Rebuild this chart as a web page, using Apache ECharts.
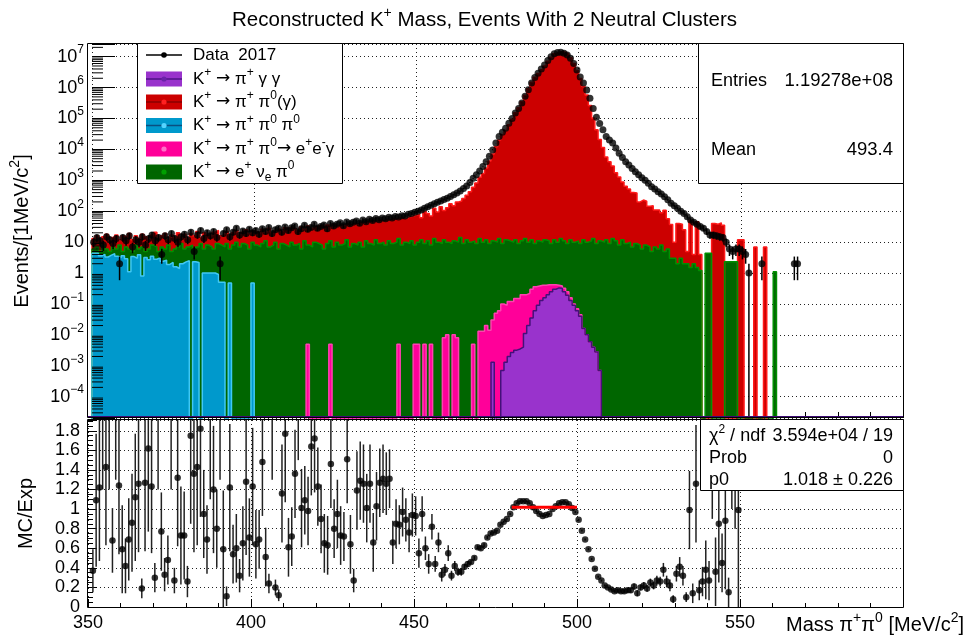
<!DOCTYPE html>
<html><head><meta charset="utf-8">
<script src="https://cdn.jsdelivr.net/npm/echarts@6/dist/echarts.min.js"></script>
<style>html,body{margin:0;padding:0;background:#fff}#c{width:969px;height:642px}</style>
</head><body><div id="c"></div>
<script>
const FONT = '"Liberation Sans", Arial, Helvetica, sans-serif';

// ---------- axes ----------
const xMin = 350, xMax = 600, xStep = 50;
const yLogMin = -4.69, yLogMax = 7.41;     // decades shown in the top pad
const ratioMin = 0, ratioMax = 1.91, ratioStep = 0.2;

// ---------- top pad: 1 MeV bins, values per bin starting at *Start ----------
const dataStart = 350;
const dataCounts = [
  10, 14, 11, 8, 15, 12, 9, 13, 2, 14,
  11, 16, 7, 12, 10, 15, 8, 13, 17, 11,
  14, 4, 16, 12, 19, 13, 10, 15, 18, 12,
  21, 5, 17, 24, 13, 20, 16, 22, 14, 2,
  19, 25, 15, 21, 28, 17, 23, 19, 26, 20,
  24, 18, 27, 22, 30, 19, 25, 28, 21, 31,
  24, 29, 33, 22, 27, 35, 26, 30, 38, 28,
  32, 36, 27, 40, 33, 38, 42, 34, 45, 39,
  44, 48, 41, 52, 46, 55, 50, 58, 53, 60,
  57, 64, 60, 68, 65, 72, 70, 80, 85, 92,
  100, 110, 125, 140, 155, 175, 195, 215, 240, 265,
  300, 340, 390, 450, 540, 650, 850, 1160, 1500, 2000,
  2800, 4000, 6000, 9500, 16000, 26000, 36000, 48000, 70000, 100000,
  150000, 210000, 320000, 520000, 850000, 1400000, 2100000, 2900000, 4000000, 5400000,
  7500000, 10000000, 12500000, 13600000, 13800000, 13000000, 11300000, 8900000, 6000000, 3700000,
  2200000, 1400000, 840000, 450000, 210000, 110000, 69000, 43000, 26000, 20000,
  16000, 11000, 7500, 5500, 4000, 3100, 2400, 1900, 1500, 1200,
  1000, 800, 620, 520, 430, 360, 295, 235, 180, 150,
  125, 100, 85, 66, 52, 44, 38, 32, 28, 22,
  17, 17, 16, 15, 14, 10, 6, 5, 6, 6,
  5, 4, 1, 0, 0, 0, 2, 0, 0, 0,
  0, 0, 0, 0, 0, 0, 2, 2, 0, 0
];

const redStart = 350;   // K+ -> pi+ pi0 (gamma)
const redVals = [
  13, 16, 12, 15, 18, 11, 14, 17, 12, 16,
  14, 19, 12, 16, 13, 18, 15, 12, 17, 21,
  13, 16, 19, 12, 17, 14, 20, 15, 18, 13,
  19, 16, 22, 14, 20, 17, 15, 21, 24, 16,
  18, 22, 17, 20, 24, 18, 21, 25, 19, 23,
  22, 19, 26, 21, 28, 20, 24, 27, 22, 29,
  25, 30, 27, 23, 31, 26, 33, 28, 32, 29,
  34, 30, 36, 32, 38, 33, 37, 35, 40, 36,
  41, 38, 44, 40, 47, 43, 50, 46, 52, 49,
  55, 52, 58, 56, 60, 62, 58, 66, 70, 75,
  80, 62, 100, 85, 70, 125, 95, 140, 105, 130,
  175, 150, 200, 215, 260, 330, 430, 600, 820, 1250,
  1670, 2510, 4250, 7110, 12150, 20270, 30230, 41750, 63000, 95000,
  153000, 222600, 345600, 561600, 918000, 1484000, 2142000, 2842000, 3800000, 5020000,
  7050000, 9500000, 12500000, 14000000, 14600000, 13900000, 12100000, 9300000, 6060000, 3600000,
  1960000, 1090000, 580000, 265000, 103000, 43000, 21000, 11600, 5700, 4000,
  2900, 1760, 1270, 880, 640, 520, 400, 390, 200, 230,
  210, 145, 150, 110, 110, 90, 108, 57, 37, 10,
  40, 38, 25, 5, 50, 4, 46, 4, 0, 0,
  0, 40, 38, 42, 35, 0, 0, 0, 0, 12,
  12, 0, 0, 0, 7, 0, 0, 7
];

const greenStart = 350; // K+ -> e+ nu pi0
const greenVals = [
  6, 7, 5, 8, 6, 5, 7, 6, 8, 5,
  7, 6, 5, 8, 6, 7, 5, 6, 8, 7,
  5, 7, 6, 8, 5, 6, 7, 9, 6, 7,
  8, 6, 7, 9, 6, 8, 7, 6, 9, 8,
  7, 9, 6, 8, 10, 7, 9, 8, 6, 10,
  8, 7, 9, 11, 7, 8, 10, 6, 9, 8,
  7, 10, 8, 9, 6, 11, 8, 7, 10, 9,
  8, 6, 9, 11, 7, 10, 8, 9, 12, 7,
  9, 8, 10, 7, 11, 9, 8, 12, 9, 10,
  8, 11, 9, 10, 13, 8, 10, 9, 11, 8,
  10, 12, 9, 11, 8, 13, 10, 9, 12, 10,
  9, 11, 10, 14, 9, 12, 10, 11, 9, 13,
  10, 12, 9, 11, 10, 13, 9, 12, 11, 10,
  12, 9, 11, 13, 10, 12, 9, 11, 10, 12,
  11, 9, 12, 10, 13, 11, 9, 12, 10, 11,
  9, 12, 10, 11, 13, 9, 11, 10, 12, 9,
  13, 11, 8, 12, 9, 10, 7, 9, 8, 6,
  8, 7, 5, 7, 6, 8, 5, 6, 3, 3,
  2, 3, 2, 2, 1.5, 2, 1.5, 1.2, 0, 4.4,
  4.4, 0, 0, 0, 0, 2.3, 2.3, 2.3, 2.3, 0,
  0, 0, 0, 0, 0, 0, 0, 0, 0, 0, 1.1
];

const blueStart = 350;  // K+ -> pi+ pi0 pi0
const blueVals = [
  4.4, 4.4, 3.6, 4.0, 3.3, 3.8, 4.2, 3.5, 3.1, 3.6,
  2.9, 1.1, 3.4, 3.0, 3.9, 0.8, 3.2, 2.7, 3.5, 2.8,
  3.1, 2.4, 2.6, 1.9, 2.2, 1.6, 1.4, 2.0, 2.3, 2.5,
  0, 2.3, 2.2, 0, 1.0, 1.0, 1.0, 1.0, 0.9, 0.5,
  0.5, 0, 0.48, 0, 0, 0, 0, 0, 0, 0.48
];

const pinkStart = 416;  // K+ -> pi+ pi0 -> e+ e- gamma
const pinkVals = [
  0.005, 0, 0, 0, 0, 0, 0, 0.005, 0, 0,
  0, 0, 0, 0, 0, 0, 0, 0, 0, 0,
  0, 0, 0, 0, 0, 0, 0, 0, 0.005, 0,
  0, 0, 0, 0.005, 0.005, 0, 0.005, 0, 0.005, 0,
  0, 0, 0.008, 0.01, 0, 0.01, 0.008, 0, 0, 0,
  0, 0.005, 0, 0.013, 0.013, 0.02, 0.014, 0.03, 0.05, 0.06,
  0.1, 0.09, 0.12, 0.12, 0.15, 0.15, 0.2, 0.2, 0.22, 0.3,
  0.36, 0.38, 0.4, 0.4, 0.42, 0.42, 0.42, 0.4, 0.38, 0.32,
  0.25, 0.16, 0.1, 0.07, 0.045, 0.016, 0.01, 0.006, 0.004, 0.0028, 0.0007
];

const purpleStart = 473; // K+ -> pi+ gamma gamma
const purpleVals = [
  0.0013, 0, 0, 0.0007, 0.0013, 0.002, 0.0027, 0.0032, 0.0035, 0.004,
  0.011, 0.02, 0.035, 0.06, 0.09, 0.13, 0.16, 0.2, 0.25, 0.3,
  0.33, 0.32, 0.25, 0.19, 0.13, 0.09, 0.06, 0.04, 0.016, 0.01,
  0.006, 0.004, 0.0028, 0.0007
];

// ---------- bottom pad: MC/Exp per 1 MeV bin ----------
const ratioStart = 350;
const ratioVals = [
  null, 0.37, 1.09, 1.22, 2.4, 1.43, 2.2, 0.68, 2.6, 1.24,
  0.59, 0.42, 0.69, 0.86, 1.12, 1.26, 0.19, 1.27, 1.62, 1.23,
  0.30, 2.3, 0.77, 0.33, 0.48, 2.5, 0.27, 1.32, 0.73, 0.73,
  0.26, 1.75, 1.36, 1.43, 1.82, 0.95, 0.69, 2.1, 1.20, 0.80,
  2.8, 0.59, 0.11, 1.22, 0.54, 0.60, 0.32, 0.65, 1.28, 0.71,
  1.23, 0.64, 0.69, 1.48, 0.51, 0.24, 2.2, 0.20, 0.12, 1.16,
  1.77, 0.61, 0.72, 1.36, 2.3, 1.01, 1.09, 0.98, 1.64, 1.72,
  1.23, 0.90, 0.65, 0.63, 1.46, 0.80, 0.95, 0.73, 0.72, 1.51,
  0.64, 0.27, 1.19, 1.29, 1.26, 1.01, 1.26, 0.66, 1.03, 1.27,
  1.31, 1.26, 1.31, 0.66, 0.85, 0.84, 0.97, 0.89, 0.76, 0.94,
  0.93, 0.55, 0.95, 0.60, 0.44, 0.82, 0.44, 0.66, 0.33, 0.38,
  0.55, 0.32, 0.42, 0.36, 0.36, 0.41, 0.44, 0.46, 0.50, 0.61,
  0.60, 0.63, 0.71, 0.75, 0.76, 0.78, 0.84, 0.87, 0.90, 0.95,
  1.02, 1.06, 1.08, 1.08, 1.08, 1.06, 1.02, 0.98, 0.95, 0.93,
  0.94, 0.95, 1.00, 1.03, 1.06, 1.07, 1.07, 1.05, 1.01, 0.97,
  0.89, 0.78, 0.69, 0.59, 0.49, 0.39, 0.31, 0.27, 0.22, 0.20,
  0.18, 0.16, 0.17, 0.16, 0.16, 0.17, 0.17, 0.21, 0.14, 0.20,
  0.22, 0.19, 0.25, 0.22, 0.27, 0.26, 0.38, 0.26, 0.22, 0.08,
  0.34, 0.41, 0.32, 0.10, 0.99, 0.14, 1.26, 0.17, 0.26, 0.38,
  0.27, 2.5, 0.36, 0.85, 0.45, 0.88, 0.15, 3.0, 2.6, 0.99
];
const ratioErrs = [
  0, 0.22, 0.68, 0.75, 1.2, 0.8, 1.0, 0.33, 1.3, 0.7,
  0.45, 0.28, 0.42, 0.5, 0.65, 0.7, 0.1, 0.7, 0.85, 0.68,
  0.15, 1.1, 0.4, 0.17, 0.25, 1.3, 0.13, 0.7, 0.5, 0.45,
  0.16, 0.9, 0.8, 0.8, 0.9, 0.45, 0.35, 1.0, 0.65, 0.4,
  1.5, 0.6, 0.1, 0.65, 0.3, 0.35, 0.17, 0.38, 0.75, 0.4,
  0.6, 0.35, 0.3, 0.55, 0.3, 0.1, 0.9, 0.08, 0.06, 0.5,
  0.7, 0.3, 0.3, 0.45, 0.8, 0.4, 0.35, 0.35, 0.5, 0.55,
  0.4, 0.35, 0.3, 0.3, 0.45, 0.3, 0.35, 0.3, 0.25, 0.45,
  0.3, 0.12, 0.4, 0.4, 0.4, 0.35, 0.4, 0.3, 0.35, 0.35,
  0.35, 0.32, 0.3, 0.22, 0.25, 0.2, 0.25, 0.22, 0.2, 0.22,
  0.2, 0.15, 0.18, 0.12, 0.1, 0.13, 0.08, 0.1, 0.07, 0.06,
  0.08, 0.05, 0.05, 0.04, 0.04, 0.03, 0.03, 0.02, 0.02, 0.02,
  0.02, 0.02, 0.015, 0.015, 0.01, 0.01, 0.01, 0.01, 0.01, 0.01,
  0.01, 0.01, 0.01, 0.01, 0.01, 0.01, 0.01, 0.01, 0.01, 0.01,
  0.01, 0.01, 0.01, 0.01, 0.01, 0.01, 0.01, 0.01, 0.01, 0.01,
  0.01, 0.01, 0.01, 0.01, 0.01, 0.01, 0.01, 0.01, 0.01, 0.01,
  0.015, 0.015, 0.02, 0.02, 0.02, 0.025, 0.025, 0.03, 0.03, 0.03,
  0.035, 0.035, 0.04, 0.04, 0.05, 0.05, 0.07, 0.06, 0.06, 0.04,
  0.08, 0.1, 0.1, 0.05, 0.4, 0.1, 0.6, 0.1, 0.15, 0.3,
  0.2, 1.6, 0.35, 0.6, 0.3, 0.7, 0.15, 2.0, 1.8, 1.0
];

// fit of a constant over [fitLo, fitHi]
const fitLo = 480, fitHi = 500, fitP0 = 1.018;

// text of the statistics boxes
const statEntries = '1.19278e+08', statMean = '493.4';
const fitChi2 = '3.594e+04 / 19', fitProb = '0', fitP0Text = '1.018 \u00b1 0.226';

const titleText = 'Reconstructed K^{+} Mass, Events With 2 Neutral Clusters';
const xTitle = 'Mass \u03c0^{+}\u03c0^{0} [MeV/c^{2}]';
const yTitleTop = 'Events/[1MeV/c^{2}]';
const yTitleBottom = 'MC/Exp';

const legendLabels = [
  'Data  2017',
  'K^{+} \u2192 \u03c0^{+} \u03b3 \u03b3',
  'K^{+} \u2192 \u03c0^{+} \u03c0^{0}(\u03b3)',
  'K^{+} \u2192 \u03c0^{+} \u03c0^{0} \u03c0^{0}',
  'K^{+} \u2192 \u03c0^{+} \u03c0^{0}\u2192 e^{+}e^{-}\u03b3',
  'K^{+} \u2192 e^{+} \u03bd_{e} \u03c0^{0}'
];

// ---------- styles ----------
const COL = {
  red:    {fill: '#cc0000', line: '#ff1a1a', mid: '#8a0000', dot: '#ff2020'},
  green:  {fill: '#006600', line: '#009000', mid: '#006600', dot: '#00a000'},
  blue:   {fill: '#0099cc', line: '#40c8f4', mid: '#0a4f80', dot: '#55d4ff'},
  pink:   {fill: '#ff0099', line: '#ff40b0', mid: '#ff0099', dot: '#ff70c8'},
  purple: {fill: '#9933cc', line: '#45107a', mid: '#4d1585', dot: '#6a22a8'}
};

// ---------- helpers ----------
function rt(s) {
  let out = '', last = 0, m;
  const re = /(\^|_)\{([^}]*)\}|\u2192/g;
  while ((m = re.exec(s))) {
    if (m.index > last) out += '{n|' + s.slice(last, m.index) + '}';
    if (m[0] === '\u2192') out += '{ar|\u2192}';
    else out += (m[1] === '^' ? '{sup|' : '{sub|') + m[2] + '}';
    last = re.lastIndex;
  }
  if (last < s.length) out += '{n|' + s.slice(last) + '}';
  return out;
}
function richStyles(size) {
  const ss = Math.round(size * 0.68);
  return {
    n:   {fontSize: size, fontFamily: FONT, fontWeight: 'normal', color: '#000', lineHeight: Math.round(size * 1.4)},
    ar:  {fontSize: size, fontFamily: '"DejaVu Sans", sans-serif', fontWeight: 'normal', color: '#000', lineHeight: Math.round(size * 1.4)},
    sup: {fontSize: ss, fontFamily: FONT, fontWeight: 'normal', color: '#000', verticalAlign: 'top', lineHeight: ss + 2},
    sub: {fontSize: ss, fontFamily: FONT, fontWeight: 'normal', color: '#000', verticalAlign: 'bottom', lineHeight: ss + 6}
  };
}
const LOW = -9;
const lg = v => (v > 0 ? Math.log10(v) : LOW);
function histPoints(start, vals) {
  const pts = [[start, LOW]];
  vals.forEach((v, i) => pts.push([start + i, lg(v)]));
  pts.push([start + vals.length, LOW]);
  return pts;
}
function stepSeries(name, start, vals, c) {
  return {
    type: 'line', name, xAxisIndex: 0, yAxisIndex: 0, step: 'end', symbol: 'none',
    data: histPoints(start, vals), clip: true, silent: true, z: 2,
    lineStyle: {color: c.line, width: 1.5},
    areaStyle: {color: c.fill, opacity: 1, origin: 'start'},
    itemStyle: {color: c.fill}
  };
}
function errItem(color, width) {
  return function (params, api) {
    const x = api.value(0), lo = api.value(1), hi = api.value(2);
    const cs = params.coordSys;
    const a = api.coord([x, hi]), b = api.coord([x, lo]);
    const y1 = Math.max(a[1], cs.y), y2 = Math.min(b[1], cs.y + cs.height);
    if (!(y2 > y1)) return null;
    return {type: 'line', shape: {x1: a[0], y1: y1, x2: a[0], y2: y2},
            style: {stroke: color, lineWidth: width}};
  };
}

// ---------- derived series data ----------
const dataPts = [], dataErr = [];
dataCounts.forEach((n, i) => {
  if (n > 0) {
    const x = dataStart + i + 0.5, s = Math.sqrt(n);
    dataPts.push([x, lg(n)]);
    dataErr.push([x, lg(n - s), lg(n + s)]);
  }
});
const ratioPts = [], ratioErrPts = [];
ratioVals.forEach((r, i) => {
  if (r !== null) {
    const x = ratioStart + i + 0.5;
    ratioPts.push([x, r]);
    ratioErrPts.push([x, r - ratioErrs[i], r + ratioErrs[i]]);
  }
});
const logMinor = [];
for (let k = Math.floor(yLogMin); k <= Math.ceil(yLogMax); k++) {
  for (let j = 2; j <= 9; j++) {
    const v = k + Math.log10(j);
    if (v > yLogMin && v < yLogMax) logMinor.push([xMin, v]);
  }
}

// ---------- layout ----------
const G1 = {left: 88, top: 44, width: 815, height: 374};
const G2 = {left: 88, top: 420, width: 815, height: 187};
const dotted = {type: [1, 3], color: '#222', width: 1};

const graphics = [];
graphics.push({type: 'line', z: 99, silent: true,
  shape: {x1: G1.left, y1: G1.top + G1.height - 1, x2: G1.left + G1.width, y2: G1.top + G1.height - 1},
  style: {stroke: '#3d0a75', lineWidth: 2}});
graphics.push({type: 'rect', z: 100, silent: true,
  shape: {x: G1.left - 0.5, y: G1.top - 0.5, width: G1.width + 1, height: G1.height},
  style: {fill: 'none', stroke: '#000', lineWidth: 1}});
graphics.push({type: 'rect', z: 100, silent: true,
  shape: {x: G2.left - 0.5, y: G2.top - 0.5, width: G2.width + 1, height: G2.height + 1},
  style: {fill: 'none', stroke: '#000', lineWidth: 1}});

// legend box
const LB = {x: 137.5, y: 43.5, w: 205, h: 140};
graphics.push({type: 'rect', z: 101, shape: {x: LB.x, y: LB.y, width: LB.w, height: LB.h},
  style: {fill: '#fff', stroke: '#000', lineWidth: 1}});
const legendKeys = [null, COL.purple, COL.red, COL.blue, COL.pink, COL.green];
const rowY = [55, 79, 102, 125.5, 149, 172];
legendLabels.forEach((lab, i) => {
  const cy = rowY[i];
  const c = legendKeys[i];
  if (!c) {
    graphics.push({type: 'line', z: 102, shape: {x1: 146, y1: cy, x2: 182, y2: cy}, style: {stroke: '#000', lineWidth: 1.5}});
    graphics.push({type: 'circle', z: 103, shape: {cx: 164, cy: cy, r: 2.8}, style: {fill: '#000'}});
  } else {
    graphics.push({type: 'rect', z: 102, shape: {x: 146, y: cy - 7.5, width: 36, height: 15}, style: {fill: c.fill}});
    graphics.push({type: 'line', z: 103, shape: {x1: 146, y1: cy, x2: 182, y2: cy}, style: {stroke: c.mid, lineWidth: 1.5}});
    graphics.push({type: 'circle', z: 104, shape: {cx: 164, cy: cy, r: 2.6}, style: {fill: c.dot}});
  }
  graphics.push({type: 'text', z: 104, x: 193, y: cy,
    style: {text: rt(lab), rich: richStyles(17), align: 'left', verticalAlign: 'middle'}});
});

// stats box
graphics.push({type: 'rect', z: 101, shape: {x: 698.5, y: 43.5, width: 205, height: 140},
  style: {fill: '#fff', stroke: '#000', lineWidth: 1}});
[['Entries', statEntries, 81], ['Mean', statMean, 150]].forEach(r => {
  graphics.push({type: 'text', z: 102, x: 711, y: r[2], style: {text: r[0], font: '18px ' + FONT, fill: '#000', align: 'left', verticalAlign: 'middle'}});
  graphics.push({type: 'text', z: 102, x: 893, y: r[2], style: {text: r[1], font: '18.5px ' + FONT, fill: '#000', align: 'right', verticalAlign: 'middle'}});
});

// fit box
graphics.push({type: 'rect', z: 101, shape: {x: 700.5, y: 419.5, width: 203, height: 71},
  style: {fill: '#fff', stroke: '#000', lineWidth: 1}});
[['\u03c7^{2} / ndf', fitChi2, 436], ['Prob', fitProb, 458], ['p0', fitP0Text, 480]].forEach(r => {
  graphics.push({type: 'text', z: 102, x: 709, y: r[2], style: {text: rt(r[0]), rich: richStyles(18), align: 'left', verticalAlign: 'middle'}});
  graphics.push({type: 'text', z: 102, x: 893, y: r[2], style: {text: r[1], font: '18px ' + FONT, fill: '#000', align: 'right', verticalAlign: 'middle'}});
});

function logLabel(v) {
  const k = Math.round(v);
  if (Math.abs(v - k) > 1e-6) return '';
  if (k === 0) return '{n|1}';
  if (k === 1) return '{n|10}';
  return '{n|10}{sup|' + (k < 0 ? '\u2212' + (-k) : k) + '}';
}

const option = {
  animation: false,
  backgroundColor: '#fff',
  textStyle: {fontFamily: FONT},
  title: {
    text: rt(titleText), left: 'center', top: 1,
    textStyle: {fontWeight: 'normal', rich: richStyles(20.5)}
  },
  grid: [
    {left: G1.left, top: G1.top, width: G1.width, height: G1.height},
    {left: G2.left, top: G2.top, width: G2.width, height: G2.height}
  ],
  xAxis: [
    {type: 'value', gridIndex: 0, min: xMin, max: xMax, interval: xStep,
     axisLine: {show: false, onZero: false}, axisLabel: {show: false},
     axisTick: {show: true, inside: true, length: 11, lineStyle: {color: '#000'}},
     minorTick: {show: true, splitNumber: 5, length: 6, lineStyle: {color: '#000'}},
     splitLine: {show: true, lineStyle: dotted}},
    {type: 'value', gridIndex: 1, min: xMin, max: xMax, interval: xStep,
     axisLine: {show: false, onZero: false},
     axisLabel: {show: true, fontSize: 18, color: '#000', fontFamily: FONT, margin: 7, showMaxLabel: false},
     axisTick: {show: true, inside: true, length: 8, lineStyle: {color: '#000'}},
     minorTick: {show: true, splitNumber: 5, length: 4, lineStyle: {color: '#000'}},
     splitLine: {show: true, lineStyle: dotted},
     name: rt(xTitle), nameLocation: 'end', nameGap: 61,
     nameTextStyle: {rich: richStyles(20), align: 'right', verticalAlign: 'top', padding: [4, 0, 0, 0]}}
  ],
  yAxis: [
    {type: 'value', gridIndex: 0, min: yLogMin, max: yLogMax, splitNumber: 12, minInterval: 1, maxInterval: 1,
     axisLine: {show: false, onZero: false},
     axisLabel: {show: true, formatter: logLabel, rich: richStyles(18), margin: 8},
     axisTick: {show: true, inside: true, length: 23, lineStyle: {color: '#000'}},
     splitLine: {show: true, lineStyle: dotted},
     name: rt(yTitleTop), nameLocation: 'middle', nameRotate: 90, nameGap: 56,
     nameTextStyle: {rich: richStyles(20)}},
    {type: 'value', gridIndex: 1, min: ratioMin, max: ratioMax, interval: ratioStep,
     axisLine: {show: false, onZero: false},
     axisLabel: {show: true, fontSize: 18, color: '#000', fontFamily: FONT, margin: 8, showMaxLabel: false},
     axisTick: {show: true, inside: true, length: 9, lineStyle: {color: '#000'}},
     minorTick: {show: true, splitNumber: 4, length: 5, lineStyle: {color: '#000'}},
     splitLine: {show: true, lineStyle: dotted},
     name: yTitleBottom, nameLocation: 'middle', nameRotate: 90, nameGap: 48,
     nameTextStyle: {fontSize: 20, color: '#000', fontFamily: FONT, lineHeight: 28}}
  ],
  series: [
    stepSeries('K+ \u2192 \u03c0+ \u03c00(\u03b3)', redStart, redVals, COL.red),
    stepSeries('K+ \u2192 e+ \u03bde \u03c00', greenStart, greenVals, COL.green),
    stepSeries('K+ \u2192 \u03c0+ \u03c00 \u03c00', blueStart, blueVals, COL.blue),
    stepSeries('K+ \u2192 \u03c0+ \u03c00 \u2192 e+e-\u03b3', pinkStart, pinkVals, COL.pink),
    stepSeries('K+ \u2192 \u03c0+ \u03b3 \u03b3', purpleStart, purpleVals, COL.purple),
    {type: 'custom', name: 'yMinorTicks', xAxisIndex: 0, yAxisIndex: 0, data: logMinor, silent: true, z: 10,
     renderItem: function (params, api) {
       const p = api.coord([api.value(0), api.value(1)]);
       const cs = params.coordSys;
       return {type: 'line', shape: {x1: cs.x, y1: p[1], x2: cs.x + 11, y2: p[1]}, style: {stroke: '#000', lineWidth: 1}};
     }},
    {type: 'custom', name: 'Data errors', xAxisIndex: 0, yAxisIndex: 0, data: dataErr, silent: true, z: 5,
     encode: {x: 0, y: [1, 2]}, renderItem: errItem('#000', 1.5)},
    {type: 'scatter', name: 'Data 2017', xAxisIndex: 0, yAxisIndex: 0, data: dataPts, symbol: 'circle', symbolSize: 7,
     itemStyle: {color: '#000'}, z: 6, silent: true},
    {type: 'custom', name: 'Ratio errors', xAxisIndex: 1, yAxisIndex: 1, data: ratioErrPts, silent: true, z: 5,
     encode: {x: 0, y: [1, 2]}, renderItem: errItem('#222', 1.5)},
    {type: 'scatter', name: 'MC/Exp', xAxisIndex: 1, yAxisIndex: 1, data: ratioPts, symbol: 'circle', symbolSize: 6.5,
     itemStyle: {color: '#000'}, z: 6, silent: true, clip: true},
    {type: 'line', name: 'Fit p0', xAxisIndex: 1, yAxisIndex: 1, data: [[fitLo, fitP0], [fitHi, fitP0]],
     symbol: 'none', lineStyle: {color: '#ff0000', width: 3}, z: 7, silent: true}
  ],
  graphic: {elements: graphics}
};

const chart = echarts.init(document.getElementById('c'), null, {renderer: 'canvas'});
chart.setOption(option);
</script>
</body></html>
